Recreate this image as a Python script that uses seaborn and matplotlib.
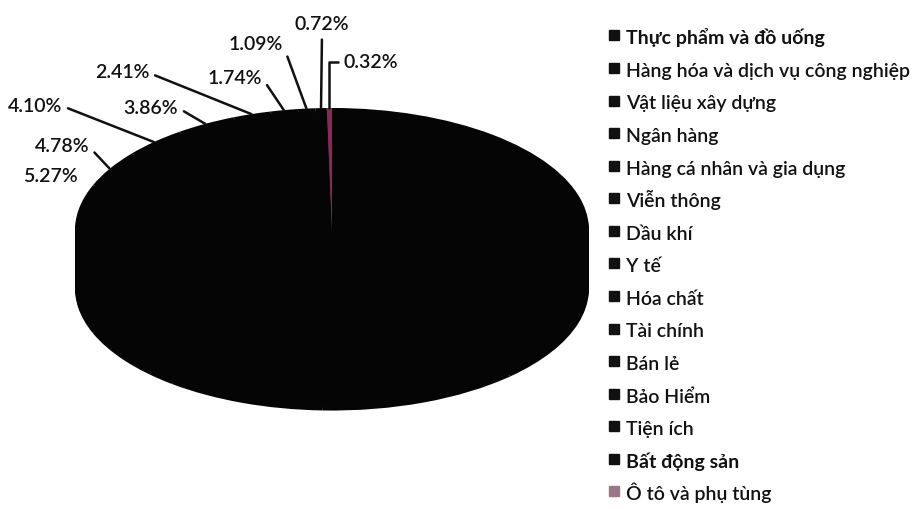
import numpy as np
import seaborn as sns
import matplotlib.pyplot as plt
from matplotlib.lines import Line2D

# sector names (legend order) and their share of the total, in %
sectors = ['Thực phẩm và đồ uống', 'Hàng hóa và dịch vụ công nghiệp', 'Vật liệu xây dựng',
           'Ngân hàng', 'Hàng cá nhân và gia dụng', 'Viễn thông', 'Dầu khí', 'Y tế',
           'Hóa chất', 'Tài chính', 'Bán lẻ', 'Bảo Hiểm', 'Tiện ích', 'Bất động sản',
           'Ô tô và phụ tùng']
shares = [21.45, 16.30, 12.86, 10.12, 8.37, 6.61, 5.27, 4.78,
          4.10, 3.86, 2.41, 1.74, 1.09, 0.72, 0.32]
# only the last nine slices have readable labels in the original
labelled = sectors[6:]

sns.set_theme(style='white')
plt.rcParams['font.family'] = ['Lato', 'Open Sans', 'DejaVu Sans']

colors = ['#050505'] * 14 + ['#8c2a55']
legend_colors = ['#111111'] * 14 + ['#9c7688']

fig = plt.figure(figsize=(9.23, 5.09), dpi=100)
ax = fig.add_axes([0, 0, 1, 1])

# side of the 3d pie: stack copies of the pie downwards
depth = 0.48
for k in np.linspace(depth, 0.02, 30):
    ax.pie(shares, colors=colors, startangle=90, counterclock=False,
           center=(0, -k), wedgeprops=dict(linewidth=0))

wedges, _ = ax.pie(shares, colors=colors, startangle=90, counterclock=False,
                   center=(0, 0), wedgeprops=dict(linewidth=0))

ax.set_aspect('auto')
ax.set_xlim(-1.292, 2.300)
ax.set_ylim(-2.287, 1.885)
ax.axis('off')

# label positions (pixels in the original) and which side the leader starts from
label_pos = {
    'Dầu khí': (50, 177, None),
    'Y tế': (62, 147, (1, 0.5)),
    'Hóa chất': (35, 106, (1, 0.5)),
    'Tài chính': (151, 108, (1, 0.5)),
    'Bán lẻ': (122, 73, (1, 0.5)),
    'Bảo Hiểm': (235, 78, (1, 0.5)),
    'Tiện ích': (256, 45, (1, 0.5)),
    'Bất động sản': (322, 25, (0.5, 0)),
    'Ô tô và phụ tùng': (371, 62, (0, 0.5)),
}

total = sum(shares)
for w, name, v in zip(wedges, sectors, shares):
    if name not in labelled:
        continue
    px, py, rel = label_pos[name]
    ang = np.deg2rad((w.theta1 + w.theta2) / 2)
    anchor = (np.cos(ang), np.sin(ang))
    txt = f'{v / total * 100:.2f}%'
    tpos = (px / 923, 1 - py / 509)
    if rel is None:
        ax.text(*tpos, txt, transform=ax.transAxes, ha='center', va='center',
                fontsize=14, fontweight='semibold', color='#111111')
        continue
    if name == 'Ô tô và phụ tùng':
        cs = 'angle,angleA=180,angleB=90,rad=0'
    else:
        cs = 'arc3'
    ax.annotate(txt, xy=anchor, xycoords='data', xytext=tpos, textcoords='axes fraction',
                ha='center', va='center', fontsize=14, fontweight='semibold', color='#111111',
                arrowprops=dict(arrowstyle='-', color='#111111', lw=1.8,
                                shrinkA=2, shrinkB=0, relpos=rel, connectionstyle=cs))

handles = [Line2D([], [], marker='s', ls='', markersize=7, color=c) for c in legend_colors]
leg = ax.legend(handles, sectors, loc='upper left', bbox_to_anchor=(0.651, 0.963),
                frameon=False, fontsize=14, handlelength=0.55, handleheight=1.4,
                handletextpad=0.35, labelspacing=0.52, borderaxespad=0)
for i, t in enumerate(leg.get_texts()):
    t.set_color('#111111')
    t.set_fontweight('bold' if i in (0, 13) else 'semibold')

fig.savefig('out.png', dpi=100)
